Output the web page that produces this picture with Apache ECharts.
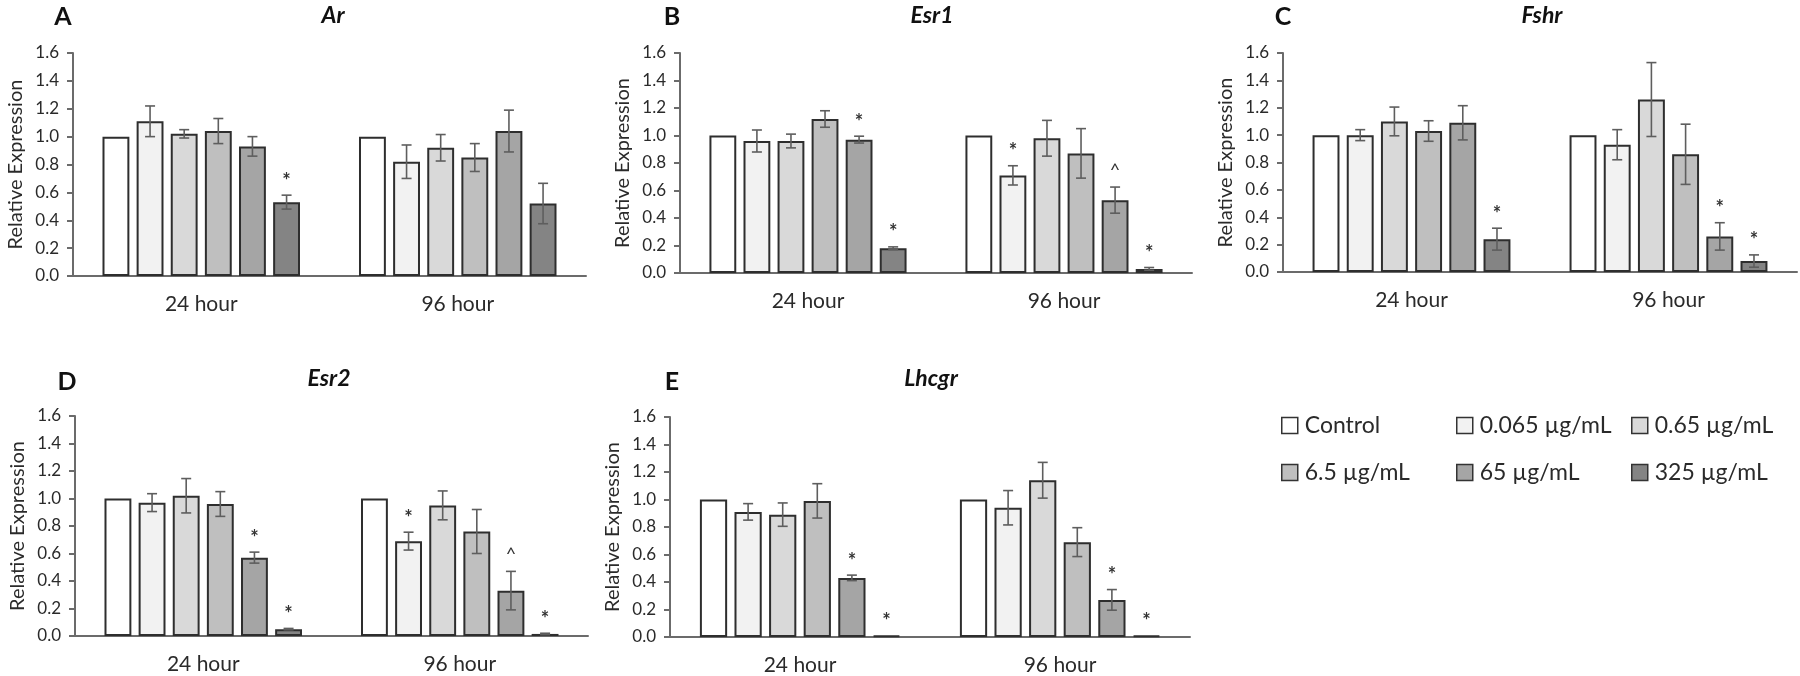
<!DOCTYPE html>
<html>
<head>
<meta charset="utf-8">
<script src="https://cdn.jsdelivr.net/npm/echarts@6/dist/echarts.min.js"></script>
<style>
html,body{margin:0;padding:0;background:#fff;}
#chart{width:1800px;height:676px;}
</style>
</head>
<body>
<div id="chart"></div>
<script>
// ---------- data ----------
const categories = ['24 hour', '96 hour'];
const groups = ['Control', '0.065 µg/mL', '0.65 µg/mL', '6.5 µg/mL', '65 µg/mL', '325 µg/mL'];
const yTicks = [0, 0.2, 0.4, 0.6, 0.8, 1.0, 1.2, 1.4, 1.6];

// Ar
const arMean24 = [1.00, 1.11, 1.02, 1.04, 0.93, 0.53];
const arErr24  = [0, 0.11, 0.03, 0.09, 0.07, 0.05];
const arSig24  = ['', '', '', '', '', '*'];
const arMean96 = [1.00, 0.82, 0.92, 0.85, 1.04, 0.52];
const arErr96  = [0, 0.12, 0.095, 0.10, 0.15, 0.145];
const arSig96  = ['', '', '', '', '', ''];

// Esr1
const esr1Mean24 = [1.00, 0.96, 0.96, 1.12, 0.97, 0.18];
const esr1Err24  = [0, 0.08, 0.05, 0.06, 0.025, 0.01];
const esr1Sig24  = ['', '', '', '', '*', '*'];
const esr1Mean96 = [1.00, 0.71, 0.98, 0.87, 0.53, 0.03];
const esr1Err96  = [0, 0.07, 0.13, 0.18, 0.095, 0.01];
const esr1Sig96  = ['', '*', '', '', '^', '*'];

// Fshr
const fshrMean24 = [1.00, 1.00, 1.10, 1.03, 1.09, 0.24];
const fshrErr24  = [0, 0.04, 0.105, 0.075, 0.125, 0.08];
const fshrSig24  = ['', '', '', '', '', '*'];
const fshrMean96 = [1.00, 0.93, 1.26, 0.86, 0.26, 0.08];
const fshrErr96  = [0, 0.11, 0.27, 0.22, 0.10, 0.045];
const fshrSig96  = ['', '', '', '', '*', '*'];

// Esr2
const esr2Mean24 = [1.00, 0.97, 1.02, 0.96, 0.57, 0.05];
const esr2Err24  = [0, 0.065, 0.125, 0.09, 0.04, 0.005];
const esr2Sig24  = ['', '', '', '', '*', '*'];
const esr2Mean96 = [1.00, 0.69, 0.95, 0.76, 0.33, 0.015];
const esr2Err96  = [0, 0.065, 0.105, 0.16, 0.14, 0.005];
const esr2Sig96  = ['', '*', '', '', '^', '*'];

// Lhcgr
const lhcgrMean24 = [1.00, 0.91, 0.89, 0.99, 0.43, 0.01];
const lhcgrErr24  = [0, 0.06, 0.085, 0.125, 0.02, 0];
const lhcgrSig24  = ['', '', '', '', '*', '*'];
const lhcgrMean96 = [1.00, 0.94, 1.14, 0.69, 0.27, 0.01];
const lhcgrErr96  = [0, 0.125, 0.13, 0.105, 0.075, 0];
const lhcgrSig96  = ['', '', '', '', '*', '*'];

const panelLetters = ['A', 'B', 'C', 'D', 'E'];
const geneNames = ['Ar', 'Esr1', 'Fshr', 'Esr2', 'Lhcgr'];

// ---------- styling / layout ----------
const FONT = 'Lato, "Open Sans", sans-serif';
const barColors = ['#ffffff', '#f2f2f2', '#d9d9d9', '#bfbfbf', '#a5a5a5', '#848484'];
const CAT_GAP = 0.23, BAR_GAP = 0.27;

const panels = [
  {mean: [arMean24, arMean96], err: [arErr24, arErr96], sig: [arSig24, arSig96],
   grid: {left: 73, top: 53, width: 513, height: 223}, title: [333, 16], letter: [63, 17]},
  {mean: [esr1Mean24, esr1Mean96], err: [esr1Err24, esr1Err96], sig: [esr1Sig24, esr1Sig96],
   grid: {left: 680, top: 53, width: 512, height: 220}, title: [932, 16], letter: [672, 17]},
  {mean: [fshrMean24, fshrMean96], err: [fshrErr24, fshrErr96], sig: [fshrSig24, fshrSig96],
   grid: {left: 1283, top: 53, width: 514, height: 219}, title: [1542, 16], letter: [1283, 17]},
  {mean: [esr2Mean24, esr2Mean96], err: [esr2Err24, esr2Err96], sig: [esr2Sig24, esr2Sig96],
   grid: {left: 75, top: 416, width: 513, height: 220}, title: [329, 379], letter: [67, 382]},
  {mean: [lhcgrMean24, lhcgrMean96], err: [lhcgrErr24, lhcgrErr96], sig: [lhcgrSig24, lhcgrSig96],
   grid: {left: 670, top: 417, width: 520, height: 220}, title: [931, 379], letter: [672, 382]}
];

const grids = [], xAxes = [], yAxes = [], series = [], graphics = [];

panels.forEach((p, pi) => {
  grids.push(Object.assign({containLabel: false}, p.grid));
  xAxes.push({
    type: 'category', gridIndex: pi, data: categories,
    axisLine: {lineStyle: {color: '#6b6b6b', width: 2}},
    axisTick: {show: false},
    axisLabel: {color: '#2a2a2a', fontSize: 21, fontFamily: FONT, margin: 18}
  });
  yAxes.push({
    type: 'value', gridIndex: pi, min: yTicks[0], max: yTicks[yTicks.length - 1], interval: 0.2,
    name: 'Relative Expression', nameLocation: 'middle', nameGap: 47, nameRotate: 90,
    nameTextStyle: {color: '#2a2a2a', fontSize: 20, fontFamily: FONT},
    axisLine: {show: true, lineStyle: {color: '#6b6b6b', width: 2}},
    axisTick: {show: true, length: 6, lineStyle: {color: '#6b6b6b', width: 2}},
    splitLine: {show: false},
    axisLabel: {color: '#2a2a2a', fontSize: 17, fontFamily: FONT, margin: 14,
      formatter: v => v.toFixed(1)}
  });
  groups.forEach((g, gi) => {
    series.push({
      name: g, type: 'bar', xAxisIndex: pi, yAxisIndex: pi,
      data: [p.mean[0][gi], p.mean[1][gi]],
      barCategoryGap: (CAT_GAP * 100) + '%', barGap: (BAR_GAP * 100) + '%',
      itemStyle: {color: barColors[gi], borderColor: '#2e2e2e', borderWidth: 2},
      emphasis: {disabled: true}, animation: false
    });
  });
  // error bars + significance marks
  const errData = [], sigText = [];
  [0, 1].forEach(ci => {
    groups.forEach((g, gi) => {
      errData.push([ci, gi, p.mean[ci][gi], p.err[ci][gi]]);
      sigText.push(p.sig[ci][gi]);
    });
  });
  series.push({
    type: 'custom', xAxisIndex: pi, yAxisIndex: pi, data: errData, clip: false, z: 5,
    encode: {x: 0, y: 2}, animation: false, silent: true,
    renderItem: function (params, api) {
      const ci = api.value(0), gi = api.value(1), mean = api.value(2), err = api.value(3);
      const center = api.coord([ci, mean]);
      const band = api.size([1, 0])[0];
      const groupW = band * (1 - CAT_GAP);
      const bw = groupW / (groups.length + (groups.length - 1) * BAR_GAP);
      const x = center[0] - groupW / 2 + gi * bw * (1 + BAR_GAP) + bw / 2;
      const yTop = api.coord([ci, mean + err])[1];
      const yBot = api.coord([ci, mean - err])[1];
      const children = [];
      const capW = 5;
      const st = {stroke: '#5e5e5e', lineWidth: 1.6};
      if (err > 0) {
        children.push({type: 'line', shape: {x1: x, y1: yTop, x2: x, y2: yBot}, style: st});
        children.push({type: 'line', shape: {x1: x - capW, y1: yTop, x2: x + capW, y2: yTop}, style: st});
        children.push({type: 'line', shape: {x1: x - capW, y1: yBot, x2: x + capW, y2: yBot}, style: st});
      }
      const s = sigText[params.dataIndex];
      if (s) {
        children.push({type: 'text', x: x, y: yTop - (s === '^' ? 8 : 4),
          style: {text: s, fill: '#333', font: (s === '^' ? '18px ' : 'bold 20px ') + FONT,
            textAlign: 'center', textVerticalAlign: 'bottom'}});
      }
      return {type: 'group', children: children};
    }
  });
  graphics.push({type: 'text', x: p.title[0], y: p.title[1],
    style: {text: geneNames[pi], font: 'italic bold 23px ' + FONT, fill: '#111',
      textAlign: 'center', textVerticalAlign: 'middle'}});
  graphics.push({type: 'text', x: p.letter[0], y: p.letter[1],
    style: {text: panelLetters[pi], font: 'bold 25px ' + FONT, fill: '#111',
      textAlign: 'center', textVerticalAlign: 'middle'}});
});

// legends: 3 columns x 2 rows
const legendCols = [1281, 1456, 1631];
const legendRows = [428, 475];
const legends = groups.map((g, gi) => ({
  data: [g], left: legendCols[gi % 3], top: legendRows[Math.floor(gi / 3)] - 14,
  padding: 0, icon: 'rect', itemWidth: 16, itemHeight: 16, itemGap: 0,
  selectedMode: false,
  itemStyle: {borderColor: '#333', borderWidth: 1.5},
  textStyle: {fontSize: 23, fontFamily: FONT, color: '#2a2a2a', padding: [0, 0, 0, 2]}
}));

const chart = echarts.init(document.getElementById('chart'), null, {renderer: 'canvas'});
chart.setOption({
  backgroundColor: '#ffffff',
  animation: false,
  grid: grids, xAxis: xAxes, yAxis: yAxes, series: series,
  legend: legends, graphic: graphics
});
</script>
</body>
</html>
